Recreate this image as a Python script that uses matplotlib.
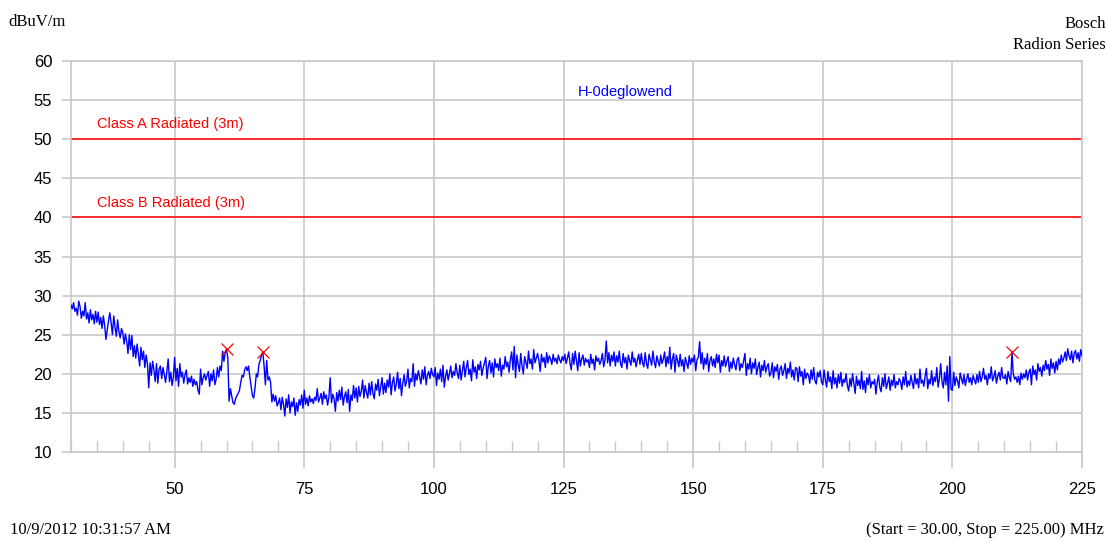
import numpy as np
import matplotlib.pyplot as plt
from matplotlib.ticker import MultipleLocator

# Sweep: 30 - 225 MHz, one reading every 0.25 MHz (each row covers 5 MHz)
freq_start = 30.0
freq_step = 0.25
level = [
    28.8, 28.3, 29.1, 28.0, 28.4, 27.5, 29.3, 28.6, 27.1, 28.0, 27.4, 29.1, 27.0, 27.8, 26.5, 28.2, 26.9, 27.6, 26.4, 28.0,  # 30
    26.6, 27.9, 26.3, 27.2, 25.8, 27.4, 26.2, 24.4, 25.6, 26.8, 27.8, 26.5, 25.0, 27.4, 26.0, 24.8, 26.9, 25.4, 24.6, 25.8,  # 35
    25.2, 23.8, 25.1, 24.2, 22.6, 25.0, 23.1, 24.9, 22.2, 23.6, 22.0, 23.8, 22.5, 21.0, 23.4, 21.8, 22.9, 20.8, 22.4, 21.3,  # 40
    18.2, 21.4, 19.8, 21.6, 20.5, 19.0, 21.3, 18.8, 20.6, 21.0, 19.4, 20.8, 19.9, 18.9, 20.3, 21.9, 19.0, 20.2, 18.5, 19.6,  # 45
    22.1, 19.1, 20.7, 18.4, 21.3, 19.6, 20.2, 18.8, 19.9, 20.5, 18.7, 19.5, 18.9, 19.7, 18.4, 19.3, 18.6, 19.0, 17.9, 17.4,  # 50
    20.6, 18.6, 19.5, 20.0, 19.2, 19.8, 20.3, 18.4, 20.0, 19.1, 20.5, 18.6, 19.3, 20.8, 19.6, 21.0, 20.4, 22.9, 21.6, 22.7,  # 55
    23.2, 22.0, 16.5, 18.1, 17.2, 16.3, 16.1, 16.8, 17.2, 17.5, 17.9, 18.9, 19.8, 19.6, 20.5, 20.9, 20.4, 21.0, 19.6, 18.4,  # 60
    17.2, 16.9, 18.2, 20.0, 19.6, 21.2, 21.7, 22.4, 22.8, 21.0, 18.6, 21.7, 19.2, 19.6, 18.9, 16.4, 17.4, 16.5, 17.2, 15.9,  # 65
    16.3, 16.9, 15.4, 17.0, 16.1, 14.6, 16.8, 15.7, 17.3, 15.0, 16.4, 15.8, 16.9, 14.7, 16.3, 15.2, 16.7, 16.0, 17.3, 15.6,  # 70
    17.9, 16.1, 16.9, 15.9, 17.2, 16.4, 16.8, 16.2, 17.0, 16.6, 18.1, 16.4, 16.9, 17.5, 16.1, 17.7, 16.8, 17.3, 16.0, 17.0,  # 75
    19.5, 16.3, 17.4, 16.8, 15.2, 17.6, 16.5, 17.9, 16.7, 18.3, 16.0, 17.1, 17.7, 16.3, 18.0, 15.2, 17.3, 16.6, 18.5, 16.9,  # 80
    18.2, 16.4, 18.4, 17.1, 17.8, 19.2, 16.9, 18.5, 17.6, 16.9, 18.8, 17.3, 19.0, 17.5, 16.8, 18.7, 17.9, 19.3, 17.2, 18.4,  # 85
    19.5, 17.4, 18.8, 17.6, 19.2, 18.3, 20.0, 17.3, 18.9, 19.6, 17.8, 18.7, 20.2, 18.1, 19.4, 17.2, 18.8, 19.9, 18.4, 19.1,  # 90
    20.6, 18.2, 19.4, 19.0, 21.3, 18.4, 20.0, 19.2, 20.4, 19.6, 18.7, 20.5, 19.3, 20.9, 18.6, 19.8, 20.3, 19.4, 20.7, 19.9,  # 95
    19.6, 20.8, 18.5, 20.1, 19.3, 20.6, 19.0, 21.1, 18.3, 19.6, 20.5, 19.2, 20.0, 21.0, 19.5, 20.3, 19.8, 21.3, 20.1, 19.4,  # 100
    21.1, 19.2, 20.4, 21.6, 19.6, 20.8, 21.7, 19.9, 20.6, 19.1, 21.8, 20.2, 20.9, 19.4, 21.2, 20.5, 21.6, 19.8, 20.7, 21.4,  # 105
    22.1, 19.4, 21.0, 21.7, 20.1, 21.4, 19.6, 21.9, 20.8, 21.3, 20.4, 22.0, 19.7, 21.1, 20.6, 22.2, 20.9, 21.5, 20.2, 21.8,  # 110
    22.8, 20.5, 23.5, 19.5, 22.4, 21.2, 20.3, 22.6, 21.0, 20.0, 22.2, 21.5, 20.7, 22.9, 21.3, 21.9, 20.6, 23.1, 21.4, 22.0,  # 115
    22.6, 21.7, 20.3, 22.5, 21.5, 22.1, 20.8, 22.7, 21.4, 22.3, 21.9, 21.2, 22.5, 21.6, 22.0, 21.3, 22.4, 21.8, 21.4, 22.2,  # 120
    21.7, 22.5, 21.3, 22.0, 22.8, 21.4, 20.5, 22.6, 21.2, 22.9, 21.6, 20.4, 22.7, 21.0, 21.9, 22.4, 21.1, 22.0, 21.5, 21.8,  # 125
    20.8, 22.5, 21.3, 21.9, 20.5, 22.3, 21.6, 22.0, 21.2, 21.7, 22.6, 20.9, 21.8, 24.2, 21.4, 22.7, 21.0, 22.4, 21.6, 22.8,  # 130
    21.0, 22.3, 21.5, 22.9, 21.3, 20.8, 22.6, 21.4, 22.1, 20.6, 22.4, 21.7, 21.1, 22.8, 21.5, 22.0, 20.9, 21.8, 22.5, 21.2,  # 135
    22.6, 21.4, 20.9, 22.7, 21.3, 20.7, 22.5, 21.8, 21.1, 22.9, 21.5, 20.8, 22.3, 21.6, 21.0, 22.4, 21.3, 21.9, 22.8, 20.9,  # 140
    22.2, 21.3, 23.4, 20.6, 21.9, 22.6, 20.2, 22.4, 21.7, 20.9, 22.5, 21.0, 21.8, 20.3, 22.1, 21.4, 20.7, 22.3, 21.2, 22.0,  # 145
    21.5, 22.4, 20.4, 21.8, 22.1, 24.1, 21.3, 22.7, 20.6, 22.0, 21.2, 22.6, 20.3, 21.7, 22.2, 21.0, 21.9, 20.8, 22.5, 21.4,  # 150
    22.4, 20.2, 21.7, 21.0, 22.3, 20.9, 21.6, 22.2, 20.3, 21.5, 20.7, 22.0, 21.2, 20.5, 21.8, 22.1, 20.4, 21.3, 20.8, 21.7,  # 155
    22.6, 19.8, 21.3, 20.6, 22.0, 20.0, 21.4, 20.7, 21.9, 19.9, 20.8, 21.5, 19.6, 21.1, 20.4, 21.7, 20.2, 20.9, 21.3, 19.7,  # 160
    20.1, 21.4, 19.5, 20.9, 20.3, 21.2, 19.3, 20.6, 21.0, 19.8, 20.4, 21.3, 19.4, 20.7, 20.1, 21.5, 19.6, 20.5, 19.2, 20.8,  # 165
    20.7, 19.0, 20.9, 19.7, 20.3, 18.6, 20.6, 19.4, 20.1, 19.8, 18.8, 20.5, 19.3, 20.8, 19.1, 18.7, 20.2, 19.6, 20.4, 19.0,  # 170
    18.6, 20.5, 19.2, 18.3, 20.3, 19.0, 19.6, 18.1, 20.4, 18.7, 19.5, 18.2, 19.9, 18.8, 20.2, 18.4, 19.3, 18.9, 20.0, 18.5,  # 175
    17.8, 19.4, 18.4, 20.0, 18.8, 17.5, 19.7, 18.5, 19.2, 18.1, 20.3, 18.0, 19.1, 17.6, 19.5, 18.6, 19.9, 18.2, 19.0, 18.7,  # 180
    19.3, 17.4, 18.9, 19.8, 18.3, 17.7, 19.5, 18.4, 20.0, 18.1, 18.8, 19.6, 17.9, 19.2, 18.5, 19.9, 18.2, 19.0, 18.6, 19.4,  # 185
    19.0, 18.0, 19.6, 18.6, 20.3, 18.3, 19.1, 18.5, 19.8, 18.9, 18.1, 20.0, 18.7, 19.4, 18.2, 20.6, 18.8, 19.2, 18.4, 19.7,  # 190
    20.7, 18.1, 19.3, 18.7, 20.4, 18.5, 19.6, 19.0, 20.8, 18.3, 19.4, 21.3, 19.0, 18.2, 20.2, 18.6, 21.0, 16.5, 22.2, 18.0,  # 195
    17.9, 20.2, 18.5, 19.6, 19.1, 18.2, 20.1, 19.4, 18.7, 19.9, 18.5, 19.3, 20.0, 18.9, 19.5, 18.6, 19.8, 19.2, 18.7, 19.9,  # 200
    18.9, 20.3, 19.0, 19.6, 20.7, 19.3, 19.8, 18.6, 20.0, 19.4, 20.9, 19.1, 19.6, 20.4, 18.8, 19.7, 20.2, 19.2, 20.8, 19.5,  # 205
    19.4, 19.9, 18.7, 20.3, 19.5, 19.0, 22.8, 20.0, 19.3, 19.6, 18.9, 19.7, 18.6, 20.1, 19.3, 20.0, 19.5, 20.5, 19.2, 20.2,  # 210
    20.6, 18.6, 21.0, 19.9, 20.5, 19.2, 21.3, 20.3, 20.8, 19.7, 21.1, 20.4, 21.7, 20.6, 21.2, 19.8, 21.9, 20.7, 21.4, 20.1,  # 215
    21.6, 20.5, 21.9, 21.2, 22.4, 21.5, 22.0, 22.8, 21.7, 23.2, 22.3, 21.8, 22.9, 21.4, 22.6, 23.0, 21.9, 22.7, 21.6, 23.1,  # 220
    22.3,                                                                                                                  # 225
]
freq = freq_start + freq_step * np.arange(len(level))
level = np.array(level)

# peak markers (MHz)
peak_freqs = [60.0, 67.0, 211.5]

limit_names = ["Class A Radiated (3m)", "Class B Radiated (3m)"]
limit_levels = [50, 40]

trace_name = "H-0deglowend"

fig = plt.figure(figsize=(11.07, 5.41), dpi=100)
ax = fig.add_axes([0.0641, 0.1645, 0.9133, 0.7227])

grid_col = "#c8c8c8"
label_font = ["Liberation Sans Narrow", "Liberation Sans", "DejaVu Sans"]

ax.plot(freq, level, color="#0000ff", linewidth=1.0, zorder=3)

# markers taken straight from the trace
idx = [int(round((f - freq_start) / freq_step)) for f in peak_freqs]
ax.plot(freq[idx], level[idx], linestyle="none", marker="x", color="#ff0000",
        markersize=9, markeredgewidth=0.9, zorder=4)

# limit lines
for name, lim in zip(limit_names, limit_levels):
    ax.axhline(lim, color="#ff0000", linewidth=1.1, zorder=2)
    ax.text(35, lim + 1.0, name, color="#ff0000", fontsize=10.5,
            family=label_font, ha="left", va="bottom")

ax.text(137, 56.0, trace_name, color="#0000ff", fontsize=10.5,
        family=label_font, ha="center", va="center")

ax.set_xlim(30, 225)
ax.set_ylim(10, 60)
ax.xaxis.set_minor_locator(MultipleLocator(5))
ax.set_xticks([50, 75, 100, 125, 150, 175, 200, 225])
ax.yaxis.set_major_locator(MultipleLocator(5))

ax.grid(True, which="major", color=grid_col, linewidth=1.2, zorder=0)
ax.set_axisbelow(True)
for side in ax.spines:
    ax.spines[side].set_color(grid_col)
    ax.spines[side].set_linewidth(1.2)

ax.tick_params(axis="x", which="major", direction="out", length=11.5, width=1.2,
               color=grid_col, pad=10, labelsize=12)
ax.tick_params(axis="x", which="minor", direction="in", length=8, width=1.0,
               color=grid_col)
ax.tick_params(axis="y", which="major", direction="out", length=6.5, width=1.2,
               color=grid_col, pad=7, labelsize=12)
for lbl in ax.get_xticklabels() + ax.get_yticklabels():
    lbl.set_family(["Liberation Sans", "DejaVu Sans"])

serif = ["Liberation Serif", "DejaVu Serif"]
fig.text(8 / 1107, 1 - 22 / 541, "dBuV/m", family=serif, fontsize=12,
         ha="left", va="center")
fig.text(1106 / 1107, 1 - 24 / 541, "Bosch", family=serif, fontsize=12,
         ha="right", va="center")
fig.text(1106 / 1107, 1 - 45 / 541, "Radion Series", family=serif, fontsize=12,
         ha="right", va="center")
fig.text(10 / 1107, 1 - 530 / 541, "10/9/2012 10:31:57 AM", family=serif,
         fontsize=12, ha="left", va="center")
fig.text(1104 / 1107, 1 - 530 / 541, "(Start = 30.00, Stop = 225.00) MHz",
         family=serif, fontsize=12, ha="right", va="center")

fig.savefig("out.png", dpi=100)
